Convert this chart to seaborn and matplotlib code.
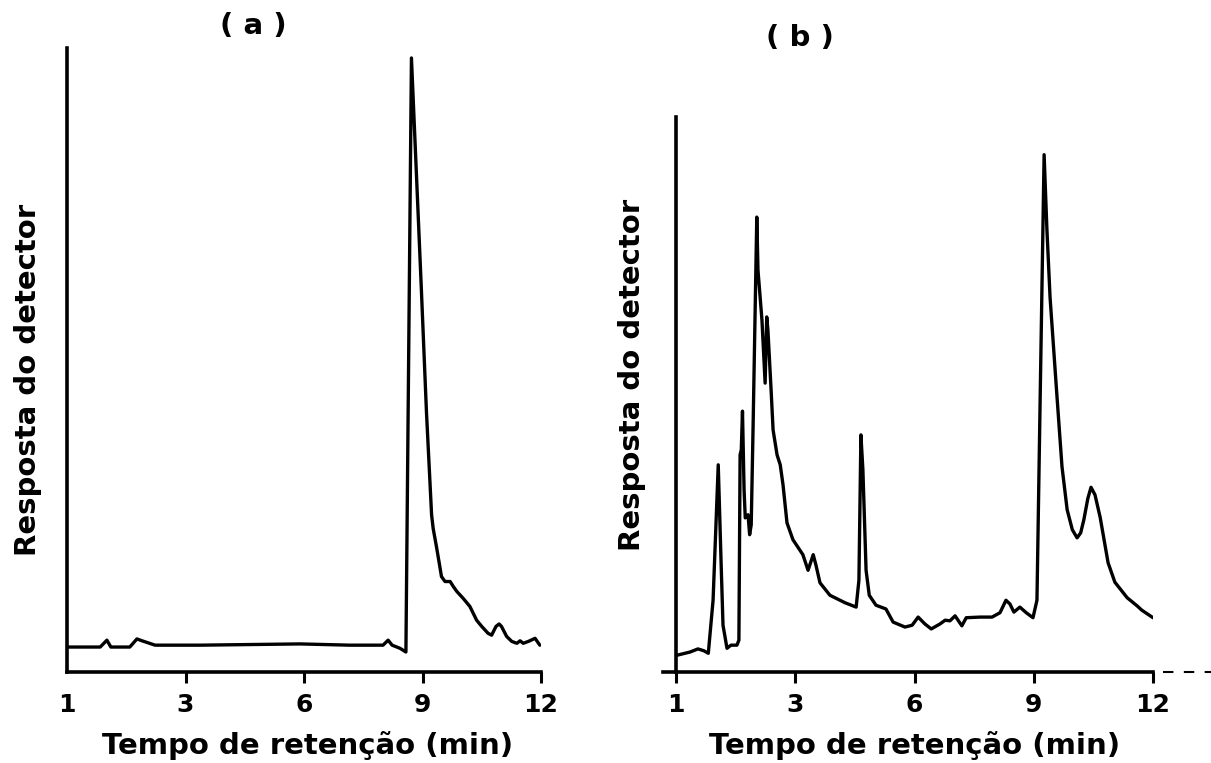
import matplotlib
matplotlib.use("Agg")
import matplotlib.pyplot as plt
import seaborn as sns
import pandas as pd

sns.set_style("white")
plt.rcParams["font.family"] = ["DejaVu Sans"]
plt.rcParams["font.weight"] = "bold"
plt.rcParams["text.color"] = "black"
plt.rcParams["xtick.color"] = "black"

# Chromatogram (a): retention time (min) and detector response (arbitrary units)
time_a = [0.00, 0.84, 1.01, 1.11, 1.59, 1.77, 1.90, 2.23, 3.37, 5.90, 7.16, 8.00,
          8.13, 8.23, 8.43, 8.58, 8.72, 8.97, 9.10, 9.23, 9.27, 9.35, 9.42, 9.48,
          9.57, 9.70, 9.78, 9.87, 10.03, 10.20, 10.37, 10.50, 10.66, 10.75, 10.86,
          10.94, 11.00, 11.13, 11.26, 11.39, 11.47, 11.55, 11.68, 11.85, 11.97]
resp_a = [4.0, 4.0, 5.1, 4.0, 4.0, 5.3, 5.0, 4.3, 4.3, 4.5, 4.3, 4.3,
          5.1, 4.3, 3.8, 3.2, 98.4, 61.5, 41.7, 25.2, 23.0, 20.2, 17.6, 15.3,
          14.5, 14.5, 13.7, 12.9, 11.8, 10.5, 8.3, 7.3, 6.2, 5.9, 7.3,
          7.7, 7.3, 5.7, 4.9, 4.6, 5.0, 4.6, 4.9, 5.4, 4.3]

# Chromatogram (b)
time_b = [0.03, 0.35, 0.55, 0.70, 0.81, 0.93, 1.06, 1.13, 1.18, 1.28, 1.38, 1.53,
          1.58, 1.61, 1.64, 1.67, 1.71, 1.74, 1.81, 1.85, 1.89, 1.94, 2.03, 2.06,
          2.16, 2.24, 2.28, 2.31, 2.39, 2.44, 2.54, 2.62, 2.69, 2.79, 2.94, 3.19,
          3.32, 3.45, 3.52, 3.62, 3.87, 4.25, 4.53, 4.60, 4.65, 4.70, 4.78, 4.86,
          5.03, 5.28, 5.46, 5.76, 5.94, 6.09, 6.26, 6.42, 6.64, 6.77, 6.89, 7.02,
          7.19, 7.30, 7.65, 7.95, 8.15, 8.30, 8.40, 8.50, 8.65, 8.81, 8.98, 9.08,
          9.16, 9.26, 9.33, 9.41, 9.58, 9.71, 9.84, 9.97, 10.09, 10.18, 10.26,
          10.36, 10.44, 10.54, 10.67, 10.87, 11.04, 11.35, 11.60, 11.72, 12.00]
resp_b = [2.7, 3.2, 3.7, 3.4, 3.0, 11.5, 33.2, 17.9, 7.5, 3.8, 4.3, 4.3,
          5.1, 34.8, 35.6, 41.8, 29.2, 24.7, 25.2, 22.0, 23.6, 40.4, 72.9, 64.4,
          56.4, 46.3, 56.9, 54.8, 45.2, 38.8, 34.8, 33.2, 30.0, 23.9, 21.2, 18.8,
          16.3, 18.8, 17.1, 14.3, 12.3, 11.1, 10.4, 14.7, 38.0, 32.4, 16.3, 12.3,
          10.7, 10.1, 8.0, 7.2, 7.5, 8.8, 7.7, 6.9, 7.7, 8.3, 8.2, 9.0,
          7.4, 8.7, 8.8, 8.8, 9.5, 11.5, 10.9, 9.6, 10.4, 9.5, 8.7, 11.5,
          43.6, 82.9, 71.0, 60.0, 44.5, 32.9, 26.0, 22.8, 21.5, 22.3, 24.4,
          27.8, 29.6, 28.4, 24.8, 17.5, 14.4, 11.9, 10.6, 9.9, 8.7]

tick_pos = [0, 3, 6, 9, 12]
tick_labels = ["1", "3", "6", "9", "12"]
panel_titles = ["( a )", "( b )"]
x_title = "Tempo de retenção (min)"
y_title = "Resposta do detector"

W, H = 1211, 763
fig = plt.figure(figsize=(W / 100, H / 100), dpi=100)

bottom = (H - 672) / H
height = 624 / H
ax_a = fig.add_axes([67 / W, bottom, 474 / W, height])
ax_b = fig.add_axes([663 / W, bottom, 490 / W, height])

df_a = pd.DataFrame({"t": time_a, "r": resp_a})
df_b = pd.DataFrame({"t": time_b, "r": resp_b})

sns.lineplot(data=df_a, x="t", y="r", ax=ax_a, color="black", lw=2.4,
             sort=False, estimator=None)
sns.lineplot(data=df_b, x="t", y="r", ax=ax_b, color="black", lw=2.4,
             sort=False, estimator=None)

ax_a.set_xlim(0, 12)
ax_b.set_xlim(-0.33, 12)
for ax in (ax_a, ax_b):
    ax.set_ylim(0, 100)
    ax.set_xticks(tick_pos)
    ax.set_xticklabels(tick_labels, fontsize=18, fontweight="bold")
    ax.set_yticks([])
    ax.set_xlabel("")
    ax.set_ylabel("")
    ax.spines["top"].set_visible(False)
    ax.spines["right"].set_visible(False)
    for side in ("left", "bottom"):
        ax.spines[side].set_linewidth(2.6)
        ax.spines[side].set_color("black")
    ax.tick_params(axis="x", direction="out", length=8, width=2.2,
                   color="black", labelcolor="black", pad=7, bottom=True)
    ax.patch.set_alpha(0)

ax_a.spines["left"].set_bounds(0, 100)
ax_b.spines["left"].set_position(("data", 0))
ax_b.spines["left"].set_bounds(0, 89)
ax_a.xaxis.get_major_ticks()[0].tick1line.set_visible(False)

# dashed continuation of the time axis in (b)
ax_b.axhline(0, xmin=1.02, xmax=1.13, color="black", lw=1.5, ls=(0, (5, 5)),
             clip_on=False)

fig.text(253 / W, 1 - 26 / H, panel_titles[0], ha="center", va="center",
         fontsize=21, fontweight="bold")
fig.text(800 / W, 1 - 38 / H, panel_titles[1], ha="center", va="center",
         fontsize=21, fontweight="bold")

for xc in (308, 915):
    fig.text(xc / W, 1 - 745 / H, x_title, ha="center", va="center",
             fontsize=21, fontweight="bold")
fig.text(28 / W, 1 - 380 / H, y_title, ha="center", va="center",
         rotation=90, fontsize=21, fontweight="bold")
fig.text(632 / W, 1 - 375 / H, y_title, ha="center", va="center",
         rotation=90, fontsize=21, fontweight="bold")

fig.savefig("out.png", dpi=100, facecolor="white")
